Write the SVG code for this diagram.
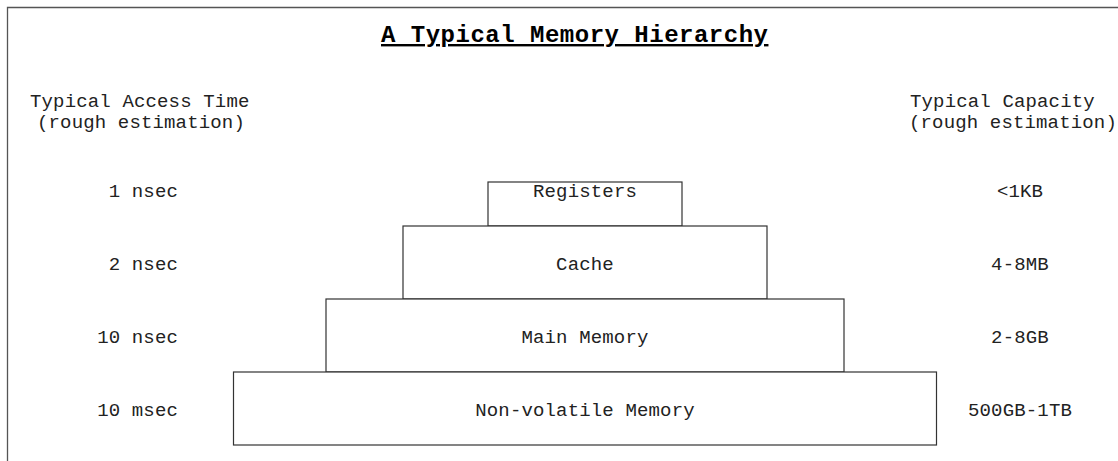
<svg xmlns="http://www.w3.org/2000/svg" width="1118" height="461" viewBox="0 0 1118 461">
<style>
  .t { font-family: "Liberation Mono", "Courier New", monospace; font-size: 19px; letter-spacing: 0.15px; fill: #222; }
  .title { font-family: "Liberation Mono", "Courier New", monospace; font-size: 24px; font-weight: bold; letter-spacing: 0.5px; fill: #000; text-decoration: underline; }
  .box { fill: #fff; stroke: #333; stroke-width: 1.2; }
  .frame { stroke: #555; stroke-width: 1.3; fill: none; }
</style>
<rect width="1118" height="461" fill="#fff"/>
<g id="frame">
  <path class="frame" d="M7.5 461 V7.5 H1118"/>
</g>
<g id="title">
  <text class="title" x="381" y="42">A Typical Memory Hierarchy</text>
</g>
<g id="headers">
  <text class="t" x="30" y="107">Typical Access Time</text>
  <text class="t" x="37" y="128">(rough estimation)</text>
  <text class="t" x="910" y="107">Typical Capacity</text>
  <text class="t" x="909" y="128">(rough estimation)</text>
</g>
<g id="access-times">
  <text class="t" x="178" y="197" text-anchor="end">1 nsec</text>
  <text class="t" x="178" y="270" text-anchor="end">2 nsec</text>
  <text class="t" x="178" y="343" text-anchor="end">10 nsec</text>
  <text class="t" x="178" y="416" text-anchor="end">10 msec</text>
</g>
<g id="capacities">
  <text class="t" x="1020" y="197" text-anchor="middle">&lt;1KB</text>
  <text class="t" x="1020" y="270" text-anchor="middle">4-8MB</text>
  <text class="t" x="1020" y="343" text-anchor="middle">2-8GB</text>
  <text class="t" x="1020" y="416" text-anchor="middle">500GB-1TB</text>
</g>
<g id="registers">
  <rect class="box" x="488" y="182" width="194" height="44"/>
  <text class="t" x="585" y="197" text-anchor="middle">Registers</text>
</g>
<g id="cache">
  <rect class="box" x="403" y="226" width="364" height="73"/>
  <text class="t" x="585" y="270" text-anchor="middle">Cache</text>
</g>
<g id="main-memory">
  <rect class="box" x="326" y="299" width="518" height="73"/>
  <text class="t" x="585" y="343" text-anchor="middle">Main Memory</text>
</g>
<g id="non-volatile">
  <rect class="box" x="233.5" y="372" width="703" height="73"/>
  <text class="t" x="585" y="416" text-anchor="middle">Non-volatile Memory</text>
</g>
<g id="connectors"></g>
</svg>
